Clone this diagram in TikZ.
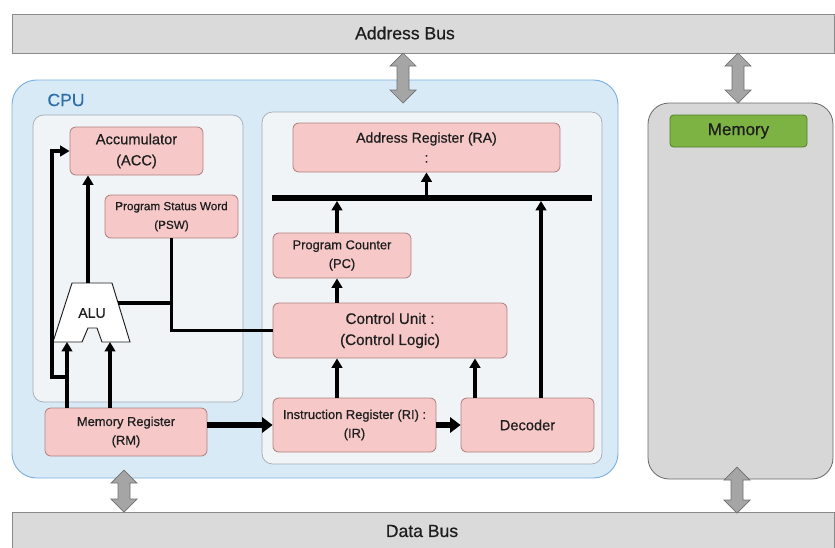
\documentclass[tikz,border=0pt]{standalone}
\usepackage{fontspec}
\setmainfont{Liberation Sans}[FakeBold=0.6,AutoFakeBold=0.6]
\usetikzlibrary{arrows.meta}

\definecolor{txt}{HTML}{1E1E1E}
\definecolor{busfill}{HTML}{DADADA}
\definecolor{busline}{HTML}{8A8A8A}
\definecolor{cpufill}{HTML}{D9EAF7}
\definecolor{cpuline}{HTML}{7AB0DD}
\definecolor{cputxt}{HTML}{2F6FA8}
\definecolor{panelfill}{HTML}{F1F4F7}
\definecolor{panelline}{HTML}{A0AAB4}
\definecolor{regfill}{HTML}{F6C8C8}
\definecolor{regline}{HTML}{B08080}
\definecolor{memfill}{HTML}{D7D7D7}
\definecolor{memline}{HTML}{6B6B6B}
\definecolor{memlblfill}{HTML}{7DB343}
\definecolor{memlblline}{HTML}{557F2A}
\definecolor{dblfill}{HTML}{A5A5A5}
\definecolor{dblline}{HTML}{707070}

\tikzset{
  wh/.style 2 args={minimum width=#1*0.03cm, minimum height=#2*0.03cm},
  bus/.style={draw=busline, fill=busfill, line width=0.6pt, inner sep=0pt},
  bustext/.style={font=\fontsize{15}{18}\selectfont},
  cpubox/.style={draw=cpuline, fill=cpufill, line width=0.8pt, rounded corners=21pt, inner sep=0pt},
  panel/.style={draw=panelline, fill=panelfill, line width=0.6pt, rounded corners=9pt, inner sep=0pt},
  membox/.style={draw=memline, fill=memfill, line width=0.7pt, rounded corners=18pt, inner sep=0pt},
  memlabel/.style={draw=memlblline, fill=memlblfill, line width=0.7pt, rounded corners=3pt, font=\fontsize{14.5}{17}\selectfont},
  reg/.style={draw=regline, fill=regfill, line width=0.7pt, rounded corners=5pt, align=center, inner sep=0pt},
  alubox/.style={draw=txt, fill=white, line width=0.8pt},
  arr/.style={line width=3pt, -{Triangle[length=8pt,width=9pt]}},
  fatarr/.style={line width=5pt, -{Triangle[length=9pt,width=13pt]}},
  ln/.style={line width=3pt},
  bar/.style={line width=5pt},
  pics/dblarrow/.style={code={
    \draw[fill=dblfill, draw=dblline, line width=0.6pt]
      (0,0) -- (13,13) -- (6,13) -- (6,#1-13) -- (13,#1-13) -- (0,#1)
      -- (-13,#1-13) -- (-6,#1-13) -- (-6,13) -- (-13,13) -- cycle;
  }}
}

\begin{document}
\begin{tikzpicture}[x=0.03cm, y=-0.03cm, every node/.style={text=txt}]
  \useasboundingbox (0,0) rectangle (835,547);

  % buses
  \node[bus, wh={822}{39}] (abus) at (423,33.5) {};
  \node[bus, wh={822}{48}] (dbus) at (423,536) {};
  \node[bustext] at (405,33) {Address Bus};
  \node[bustext] at (422,531) {Data Bus};

  % CPU
  \node[cpubox, wh={606}{398}] (cpu) at (315,279) {};
  \node[font=\fontsize{15}{18}\selectfont\bfseries, text=cputxt] at (66,100) {CPU};
  \node[panel, wh={210}{287}] (lpanel) at (138,258.5) {};
  \node[panel, wh={340}{352}] (rpanel) at (432,288) {};

  % memory
  \node[membox, wh={185}{376}] (mem) at (740.5,291) {};
  \node[memlabel, wh={137}{32}] (memlbl) at (738.5,131) {Memory};

  % bus arrows
  \pic at (403,53) {dblarrow=50};
  \pic at (738,53) {dblarrow=50};
  \pic at (124,470) {dblarrow=42};
  \pic at (737,467) {dblarrow=46};

  % left panel
  \node[reg, wh={133}{48}, font=\fontsize{12.5}{18}\selectfont] (acc) at (136.5,151) {Accumulator\\(ACC)};
  \node[reg, wh={133}{43}, font=\fontsize{10}{16}\selectfont] (psw) at (171.5,216.5) {Program Status Word\\(PSW)};
  \node[reg, wh={162}{48}, font=\fontsize{11}{16}\selectfont] (rm) at (126,432) {Memory Register\\(RM)};

  \draw[alubox] (72,283) -- (112,283) -- (130,342) -- (102,342) -- (97,328)
    -- (88,328) -- (82,342) -- (53,342) -- cycle;
  \node[font=\fontsize{12}{14}\selectfont] (alu) at (92,313) {ALU};

  \coordinate (aluinA) at (67,342);
  \coordinate (aluinB) at (110,342);
  \coordinate (aluout) at (88,283);
  \coordinate (aluside) at (118,303);
  \coordinate (loop) at (52,377);

  % right panel
  \node[reg, wh={267}{49}, font=\fontsize{12}{17}\selectfont] (ra) at (426.5,147.5) {Address Register (RA)\\:};
  \node[reg, wh={138}{45}, font=\fontsize{11}{16}\selectfont] (pc) at (342,255.5) {Program Counter\\(PC)};
  \node[reg, wh={234}{55}, font=\fontsize{13}{18}\selectfont] (cu) at (390,330.5) {Control Unit :\\(Control Logic)};
  \node[reg, wh={163}{54}, font=\fontsize{11}{16}\selectfont] (ir) at (354.5,425) {Instruction Register (RI) :\\(IR)};
  \node[reg, wh={133}{54}, font=\fontsize{12.5}{16}\selectfont] (dec) at (527.5,425) {Decoder};

  \coordinate (busL) at (272,198);
  \coordinate (busR) at (592,198);
  \coordinate (colA) at (337,0);
  \coordinate (colB) at (475,0);
  \coordinate (colC) at (541,0);

  % connections
  \draw[arr] (rm.north -| aluinA) -- (aluinA);
  \draw[arr] (rm.north -| aluinB) -- (aluinB);
  \draw[arr] (loop -| aluinA) -- (loop) |- (acc.west);
  \draw[arr] (aluout) -- (aluout |- acc.south);
  \draw[ln] (psw.south) -- (psw.south |- cu.west) -- (cu.west);
  \draw[ln] (aluside) -- (aluside -| psw.south);

  \draw[bar] (busL) -- (busR);
  \draw[arr] (ra.south |- busL) -- (ra.south);
  \draw[arr, shorten >=2.5pt] (pc.north -| colA) -- (busL -| colA);
  \draw[arr] (cu.north -| colA) -- (pc.south -| colA);
  \draw[arr] (ir.north -| colA) -- (cu.south -| colA);
  \draw[arr] (dec.north -| colB) -- (cu.south -| colB);
  \draw[arr, shorten >=2.5pt] (dec.north -| colC) -- (busL -| colC);
  \draw[fatarr] (ir.east) -- (dec.west);
  \draw[fatarr] (rm.east |- ir.west) -- (ir.west);
\end{tikzpicture}
\end{document}
